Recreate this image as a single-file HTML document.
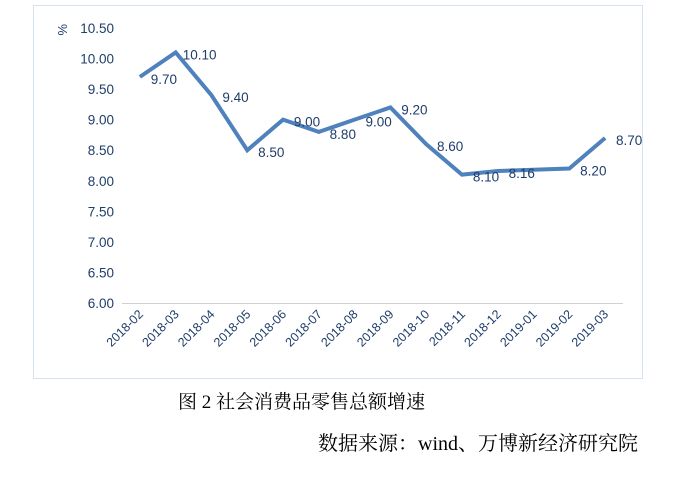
<!DOCTYPE html>
<html><head><meta charset="utf-8"><style>
body{margin:0;width:685px;height:483px;background:#fff;font-family:"Liberation Sans","Noto Sans CJK SC",sans-serif;overflow:hidden;position:relative}
.cap{position:absolute;font-size:19px;color:#000;font-family:"Liberation Serif","Noto Serif CJK SC","Noto Sans CJK SC",serif;white-space:nowrap}
</style></head><body>
<svg width="685" height="483" style="position:absolute;left:0;top:0">
<rect x="33.5" y="5.5" width="609" height="373" fill="#fff" stroke="#d5e2f0"/>
<text x="62" y="28" font-size="13" fill="#1f3d6b" transform="rotate(90 62 24)">%</text>
<g id="g"></g>
</svg>
<div class="cap" style="left:178px;top:387px">图 2 社会消费品零售总额增速</div>
<div class="cap" style="left:318px;top:427px;font-size:20px">数据来源：wind、万博新经济研究院</div>
<script>
const categories=["2018-02","2018-03","2018-04","2018-05","2018-06","2018-07","2018-08","2018-09","2018-10","2018-11","2018-12","2019-01","2019-02","2019-03"];
const values=[9.70,10.10,9.40,8.50,9.00,8.80,9.00,9.20,8.60,8.10,8.16,8.18,8.20,8.70];
const valueLabels=["9.70","10.10","9.40","8.50","9.00","8.80","9.00","9.20","8.60","8.10","8.16","","8.20","8.70"];
const yTicks=["6.00","6.50","7.00","7.50","8.00","8.50","9.00","9.50","10.00","10.50"];
const NS="http://www.w3.org/2000/svg",g=document.getElementById("g");
const L=122,R=623,T=28,B=303,ymin=6,ymax=10.5;
const step=(R-L)/categories.length;
const x=i=>L+step*(i+0.5);
const y=v=>B-(v-ymin)/(ymax-ymin)*(B-T);
function el(t,a){const e=document.createElementNS(NS,t);for(const k in a)e.setAttribute(k,a[k]);g.appendChild(e);return e;}
yTicks.forEach(t=>{
const e=el("text",{x:114,y:y(+t)+5,"text-anchor":"end","font-size":"13.5",fill:"#1f3d6b"});


e.textContent=t;});
const ax=el("line",{x1:L,x2:R,y1:B+0.5,y2:B+0.5,stroke:"#d0d0d0"});


categories.forEach((c,i)=>{
const e=el("text",{x:x(i)+4,y:B+12,"text-anchor":"end","font-size":"12.5",fill:"#1f3d6b",transform:`rotate(-45 ${x(i)+4} ${B+12})`});


e.textContent=c;});
const p=el("polyline",{points:values.map((v,i)=>x(i)+","+y(v)).join(" "),fill:"none",stroke:"#4f81bd","stroke-width":"4","stroke-linejoin":"miter"});


values.forEach((v,i)=>{if(!valueLabels[i])return;
const e=el("text",{x:x(i)+24,y:y(v)+7,"text-anchor":"middle","font-size":"13.5",fill:"#1f3d6b"});


e.textContent=valueLabels[i];});
</script>
</body></html>
